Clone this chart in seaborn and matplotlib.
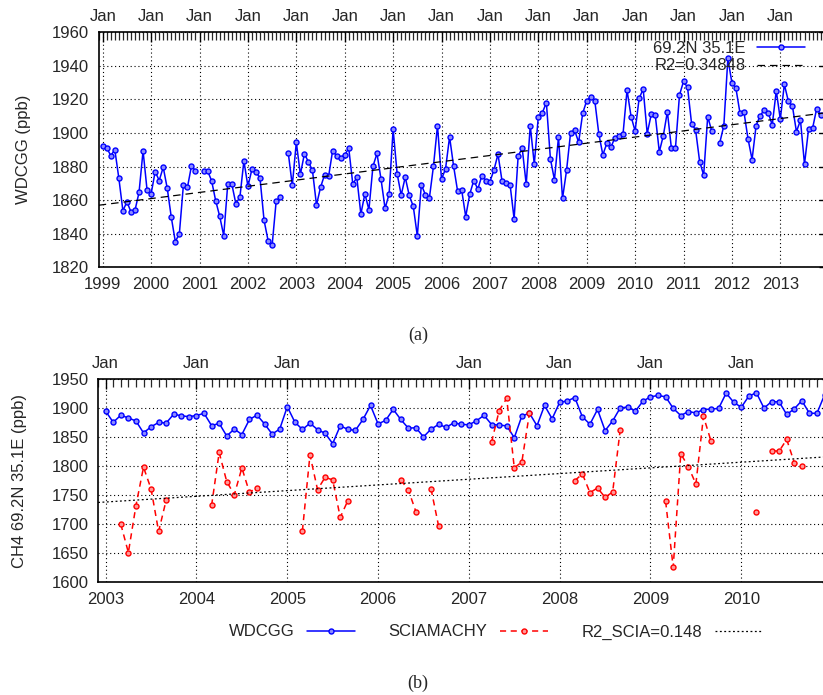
import matplotlib.pyplot as plt
import matplotlib.ticker as mticker
import matplotlib.transforms as mtransforms
from matplotlib.lines import Line2D
import numpy as np
import pandas as pd
import seaborn as sns

nan = np.nan

# ---------------------------------------------------------------------------
# Data: monthly CH4 (ppb), one list per year starting in January, NaN = gap
# ---------------------------------------------------------------------------
wdcgg_start = 1999
wdcgg_1999 = [1892.3, 1891.0, 1886.6, 1890.0, 1873.0, 1853.7, 1859.0, 1853.0, 1854.0, 1864.6, 1889.4, 1865.8]
wdcgg_2000 = [1863.8, 1877.0, 1871.7, 1879.6, 1867.0, 1849.8, 1835.3, 1840.0, 1869.0, 1867.6, 1880.4, 1877.5]
wdcgg_2001 = [nan, 1877.5, 1877.5, 1871.5, 1859.7, 1850.4, 1838.9, 1869.6, 1869.6, 1858.0, 1861.6, 1883.4]
wdcgg_2002 = [1868.2, 1878.5, 1877.0, 1873.0, 1848.0, 1835.9, 1833.1, 1859.3, 1862.0, nan, 1888.2, 1868.8]
wdcgg_2003 = [1894.5, 1875.3, 1887.6, 1882.8, 1877.7, 1857.1, 1867.6, 1875.1, 1874.1, 1889.5, 1886.4, 1885.2]
wdcgg_2004 = [1887.0, 1890.9, 1869.6, 1873.5, 1851.7, 1863.8, 1854.3, 1880.2, 1887.8, 1872.5, 1855.1, 1863.6]
wdcgg_2005 = [1902.2, 1875.7, 1863.0, 1873.7, 1862.8, 1856.3, 1838.7, 1869.2, 1863.2, 1861.4, 1880.2, 1904.4]
wdcgg_2006 = [1872.5, 1878.7, 1897.7, 1880.2, 1865.2, 1866.0, 1850.2, 1863.6, 1871.7, 1866.6, 1874.5, 1871.7]
wdcgg_2007 = [1871.1, 1877.9, 1887.4, 1871.5, 1870.5, 1869.2, 1848.8, 1886.2, 1891.1, 1869.4, 1904.4, 1881.4]
wdcgg_2008 = [1909.8, 1912.1, 1918.1, 1884.6, 1872.1, 1897.5, 1861.0, 1877.7, 1900.2, 1901.6, 1894.5, 1911.7]
wdcgg_2009 = [1919.3, 1921.6, 1919.3, 1899.5, 1887.0, 1893.9, 1891.5, 1897.3, 1898.1, 1899.3, 1925.6, 1909.8]
wdcgg_2010 = [1901.2, 1920.6, 1926.2, 1899.7, 1911.1, 1910.5, 1888.8, 1898.5, 1912.7, 1890.9, 1890.9, 1922.6]
wdcgg_2011 = [1930.7, 1927.2, 1905.6, 1901.8, 1883.0, 1874.9, 1909.8, 1901.2, nan, 1894.3, 1904.4, 1944.4]
wdcgg_2012 = [1929.9, 1926.6, 1911.9, 1912.3, 1896.5, 1884.2, 1904.4, 1910.3, 1913.7, 1912.1, 1904.8, 1925.2]
wdcgg_2013 = [1908.2, 1929.0, 1918.9, 1916.1, 1900.8, 1907.6, 1881.4, 1902.2, 1902.8, 1914.3, 1911.0]

scia_start = 2003
scia_2003 = [nan, nan, 1699.8, 1650.8, 1731.6, 1797.9, 1760.4, 1687.1, 1741.4, nan, nan, nan]
scia_2004 = [nan, nan, 1732.1, 1823.3, 1773.1, 1750.6, 1796.7, 1754.6, 1762.7, nan, nan, nan]
scia_2005 = [nan, nan, 1688.3, 1819.2, 1759.2, 1780.6, 1776.0, 1711.4, 1740.2, nan, nan, nan]
scia_2006 = [nan, nan, nan, 1776.0, 1758.7, 1721.2, nan, 1760.4, 1696.4, nan, nan, nan]
scia_2007 = [nan, nan, nan, 1841.2, 1895.4, 1916.7, 1796.7, 1807.1, 1890.8, nan, nan, nan]
scia_2008 = [nan, nan, 1774.8, 1786.4, 1754.1, 1762.1, 1746.0, 1755.2, 1862.5, nan, nan, nan]
scia_2009 = [nan, nan, 1739.1, 1625.4, 1821.0, 1799.0, 1769.0, 1885.6, 1842.9, nan, nan, nan]
scia_2010 = [nan, nan, 1721.2, nan, 1826.2, 1825.6, 1845.8, 1806.0, 1800.8, nan, nan, nan]

top_labels = ["69.2N 35.1E", "R2=0.34848"]
bottom_labels = ["WDCGG", "SCIAMACHY", "R2_SCIA=0.148"]

wdcgg_ppb = (wdcgg_1999 + wdcgg_2000 + wdcgg_2001 + wdcgg_2002 + wdcgg_2003 + wdcgg_2004
             + wdcgg_2005 + wdcgg_2006 + wdcgg_2007 + wdcgg_2008 + wdcgg_2009 + wdcgg_2010
             + wdcgg_2011 + wdcgg_2012 + wdcgg_2013)
scia_ppb = (scia_2003 + scia_2004 + scia_2005 + scia_2006 + scia_2007 + scia_2008
            + scia_2009 + scia_2010)


def monthly_frame(values, start_year):
    """Decimal-year frame; a new segment id starts after every gap."""
    df = pd.DataFrame({"time": start_year + np.arange(len(values)) / 12.0, "ppb": values})
    df["segment"] = df["ppb"].isna().cumsum()
    return df.dropna()


def trend_frame(df, x0, x1):
    slope, icpt = np.polyfit(df["time"], df["ppb"], 1)
    xs = np.array([x0, x1])
    return pd.DataFrame({"time": xs, "ppb": icpt + slope * xs})


top_df = monthly_frame(wdcgg_ppb, wdcgg_start)
bot_wdcgg = top_df[(top_df["time"] >= 2003) & (top_df["time"] < 2011.1)]
bot_scia = monthly_frame(scia_ppb, scia_start)

# ---------------------------------------------------------------------------
# Styling
# ---------------------------------------------------------------------------
sns.set_style("white")
plt.rcParams["font.family"] = ["Liberation Sans", "DejaVu Sans"]
plt.rcParams["font.size"] = 12

BLUE = "#0000ff"
RED = "#ff0000"
GRID = dict(color="black", linestyle=(0, (1, 2.5)), linewidth=0.8)
line_kw = dict(linewidth=1.1, marker="o", markersize=3.6, markeredgewidth=1.0)

W, H = 823, 695
fig = plt.figure(figsize=(W / 100, H / 100), dpi=100)


def px_axes(x0, x1, y_top, y_bot):
    return fig.add_axes([x0 / W, 1 - y_bot / H, (x1 - x0) / W, (y_bot - y_top) / H])


def style_axes(ax, years, yticks, jan_skip=()):
    ax.set_xticks(years)
    ax.set_yticks(yticks)
    ax.xaxis.set_minor_locator(mticker.MultipleLocator(1 / 12))
    ax.grid(True, which="major", **GRID)
    ax.tick_params(axis="both", which="major", direction="in", length=7, width=1,
                   labelsize=12, pad=7, top=True, right=True, color="black")
    ax.tick_params(axis="x", which="minor", direction="in", length=6, width=0.9,
                   top=True, bottom=False)
    for sp in ax.spines.values():
        sp.set_color("black")
        sp.set_linewidth(1.2)
    # "Jan" labels along the top edge
    trans = mtransforms.offset_copy(ax.get_xaxis_transform(), fig=fig, x=0, y=6, units="points")
    xmin, xmax = ax.get_xlim()
    for yr in years:
        if yr in jan_skip or not (xmin <= yr <= xmax):
            continue
        ax.text(yr, 1.0, "Jan", transform=trans, ha="center", va="bottom", fontsize=12)


# ---------------------------------------------------------------------------
# (a) WDCGG 1999-2013
# ---------------------------------------------------------------------------
ax1 = px_axes(98.7, 828.7, 32.3, 267.3)
x1_lo, x1_hi = 1999 - 1 / 12, 2014.0
sns.lineplot(data=top_df, x="time", y="ppb", units="segment", estimator=None, ax=ax1,
             color=BLUE, markeredgecolor=BLUE, markerfacecolor="#8c8cff", **line_kw)
sns.lineplot(data=trend_frame(top_df, x1_lo, x1_hi), x="time", y="ppb", ax=ax1,
             color="black", linewidth=0.9, linestyle=(0, (6, 4)))
ax1.set_xlim(x1_lo, x1_hi)
ax1.set_ylim(1820, 1960)
style_axes(ax1, list(range(1999, 2014)), list(range(1820, 1961, 20)))
ax1.set_xlabel("")
ax1.set_ylabel("WDCGG (ppb)", fontsize=12)
ax1.yaxis.set_label_coords((31 - 98.7) / 730, 0.5)

h_top = [Line2D([], [], color=BLUE, markeredgecolor=BLUE, markerfacecolor="#8c8cff", **line_kw),
         Line2D([], [], color="black", linewidth=0.9, linestyle=(0, (6, 4)))]
fig.legend(h_top, top_labels, loc="upper right", bbox_to_anchor=(805 / W, 1 - 41 / H),
           frameon=False, markerfirst=False, borderpad=0, borderaxespad=0,
           handlelength=2.9, handletextpad=0.65, labelspacing=0.15, fontsize=12)

fig.text(418 / W, 1 - 335 / H, "(a)", ha="center", va="center",
         family=["Liberation Serif", "DejaVu Serif"], fontsize=13)

# ---------------------------------------------------------------------------
# (b) WDCGG vs SCIAMACHY 2003-2010
# ---------------------------------------------------------------------------
ax2 = px_axes(98.1, 832.1, 379, 582)
x2_lo, x2_hi = 2003 - 1 / 12, 2011.0
sns.lineplot(data=bot_wdcgg, x="time", y="ppb", units="segment", estimator=None, ax=ax2,
             color=BLUE, markeredgecolor=BLUE, markerfacecolor="#8c8cff", **line_kw)
sns.lineplot(data=bot_scia, x="time", y="ppb", units="segment", estimator=None, ax=ax2,
             color=RED, markeredgecolor=RED, markerfacecolor="#ff9a9a",
             linestyle=(0, (4, 3)), **line_kw)
sns.lineplot(data=trend_frame(bot_scia, x2_lo, x2_hi), x="time", y="ppb", ax=ax2,
             color="black", linewidth=0.9, linestyle=(0, (1.5, 2)))
ax2.set_xlim(x2_lo, x2_hi)
ax2.set_ylim(1600, 1950)
style_axes(ax2, list(range(2003, 2011)), list(range(1600, 1951, 50)), jan_skip=(2006,))
ax2.set_xlabel("")
ax2.set_ylabel("CH4 69.2N 35.1E (ppb)", fontsize=12)
ax2.yaxis.set_label_coords((27 - 98.1) / 734, 0.5)

h_bot = [Line2D([], [], color=BLUE, markeredgecolor=BLUE, markerfacecolor="#8c8cff", **line_kw),
         Line2D([], [], color=RED, markeredgecolor=RED, markerfacecolor="#ff9a9a",
                linestyle=(0, (4, 3)), **line_kw),
         Line2D([], [], color="black", linewidth=0.9, linestyle=(0, (1.5, 2)))]
fig.legend(h_bot, bottom_labels, loc="center", bbox_to_anchor=(496 / W, 1 - 632 / H), ncol=3,
           frameon=False, markerfirst=False, borderpad=0, borderaxespad=0,
           handlelength=2.9, handletextpad=0.75, columnspacing=2.0, fontsize=12)

fig.text(418 / W, 1 - 683 / H, "(b)", ha="center", va="center",
         family=["Liberation Serif", "DejaVu Serif"], fontsize=13)

fig.savefig("out.png", dpi=100)
